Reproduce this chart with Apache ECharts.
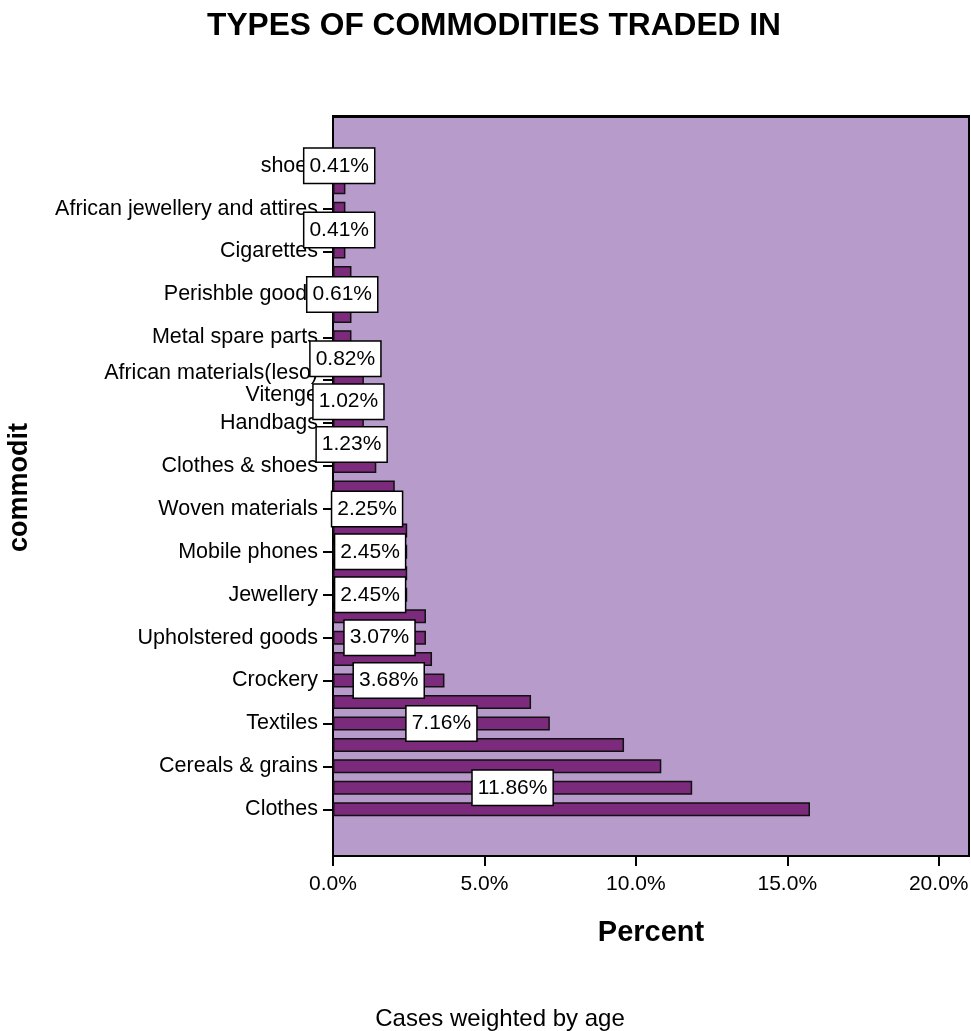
<!DOCTYPE html>
<html><head><meta charset="utf-8">
<script src="https://cdn.jsdelivr.net/npm/echarts@6/dist/echarts.min.js"></script>
<style>html,body{margin:0;padding:0;background:#fff}#c{width:971px;height:1031px}</style>
</head><body><div id="c"></div>
<script>
// Categories from bottom to top (unlabelled categories in the source are blank)
const categories = ['Clothes','','Cereals & grains','','Textiles','','Crockery','','Upholstered goods','',
  'Jewellery','','Mobile phones','','Woven materials','','Clothes & shoes','','Handbags','Vitenge',
  'African materials(leso)','','Metal spare parts','','Perishble goods','','Cigarettes','',
  'African jewellery and attires','','shoes'];
const percents = [15.75, 11.86, 10.84, 9.61, 7.16, 6.54, 3.68, 3.27, 3.07, 3.07,
  2.45, 2.45, 2.45, 2.45, 2.25, 2.04, 1.43, 1.23, 1.02, 1.02,
  1.02, 0.82, 0.61, 0.61, 0.61, 0.61, 0.41, 0.41, 0.41, 0.41, 0.41];
// bars whose value label is visible in the source
const labelledBars = [1, 4, 6, 8, 10, 12, 14, 17, 19, 21, 24, 27, 30];
const xTicks = [0, 5, 10, 15, 20];

const FONT = "'Liberation Sans', Arial, sans-serif";
const chart = echarts.init(document.getElementById('c'));

const plot = {x: 333, y: 116, w: 636, h: 740};
// crowded labels that the source lifts slightly
const liftedLabels = ['Vitenge', 'African materials(leso)'];

const barData = percents.map((v, i) => labelledBars.includes(i)
  ? {value: v, label: {show: true}}
  : {value: v});

chart.setOption({
  animation: false,
  backgroundColor: '#ffffff',
  textStyle: {fontFamily: FONT},
  title: [
    {text: 'TYPES OF COMMODITIES TRADED IN', left: 489, top: 5, textAlign: 'center',
     textStyle: {fontFamily: FONT, fontSize: 31.7, fontWeight: 'bold', color: '#000'}},
    {text: 'Cases weighted by age', left: 495, top: 1002, textAlign: 'center',
     textStyle: {fontFamily: FONT, fontSize: 24, fontWeight: 'normal', color: '#000'}}
  ],
  graphic: [
    {type: 'rect', z: -1, shape: {x: plot.x, y: plot.y, width: plot.w, height: plot.h},
     style: {fill: '#b79bca', stroke: '#000', lineWidth: 2}},
    {type: 'line', z: -1, shape: {x1: plot.x, y1: plot.y + 0.5, x2: plot.x + plot.w, y2: plot.y + 0.5},
     style: {stroke: '#000', lineWidth: 3}}
  ],
  grid: {left: 333, right: 2, top: 155, bottom: 211, containLabel: false, outerBoundsMode: 'none'},
  xAxis: {
    type: 'value', min: 0, max: 21, interval: 5, offset: 36,
    name: 'Percent', nameLocation: 'middle', nameGap: 62,
    nameTextStyle: {fontFamily: FONT, fontSize: 29, fontWeight: 'bold', color: '#000'},
    axisLine: {show: true, lineStyle: {color: '#000', width: 2}},
    axisTick: {show: true, length: 10, lineStyle: {color: '#000', width: 2}, customValues: xTicks},
    axisLabel: {margin: 18, fontSize: 21, color: '#000', fontFamily: FONT, customValues: xTicks,
      formatter: v => v.toFixed(1) + '%'},
    splitLine: {show: false}
  },
  yAxis: {
    type: 'category', data: categories,
    name: 'commodit', nameLocation: 'middle', nameGap: 300, nameRotate: 90,
    nameTextStyle: {fontFamily: FONT, fontSize: 27, fontWeight: 'bold', color: '#000'},
    axisLine: {show: true, lineStyle: {color: '#000', width: 2}},
    axisTick: {show: true, length: 10, alignWithLabel: true,
      interval: (i, v) => v !== '', lineStyle: {color: '#000', width: 2}},
    axisLabel: {interval: 0, margin: 15, fontSize: 21.5, color: '#000', fontFamily: FONT,
      formatter: v => liftedLabels.includes(v) ? '{lift|' + v + '}' : v,
      rich: {lift: {fontSize: 21.5, fontFamily: FONT, color: '#000', padding: [0, 0, 14, 0]}}},
    splitLine: {show: false}
  },
  series: [{
    type: 'bar', data: barData, barWidth: 14,
    itemStyle: {color: '#7b2a7c', borderColor: '#111', borderWidth: 1.5},
    label: {
      show: false, position: 'inside', formatter: p => p.value.toFixed(2) + '%',
      fontFamily: FONT, fontSize: 21, color: '#000', lineHeight: 21,
      backgroundColor: '#fff', borderColor: '#000', borderWidth: 1.5,
      padding: [7, 5, 6, 5]
    }
  }]
});
</script></body></html>
